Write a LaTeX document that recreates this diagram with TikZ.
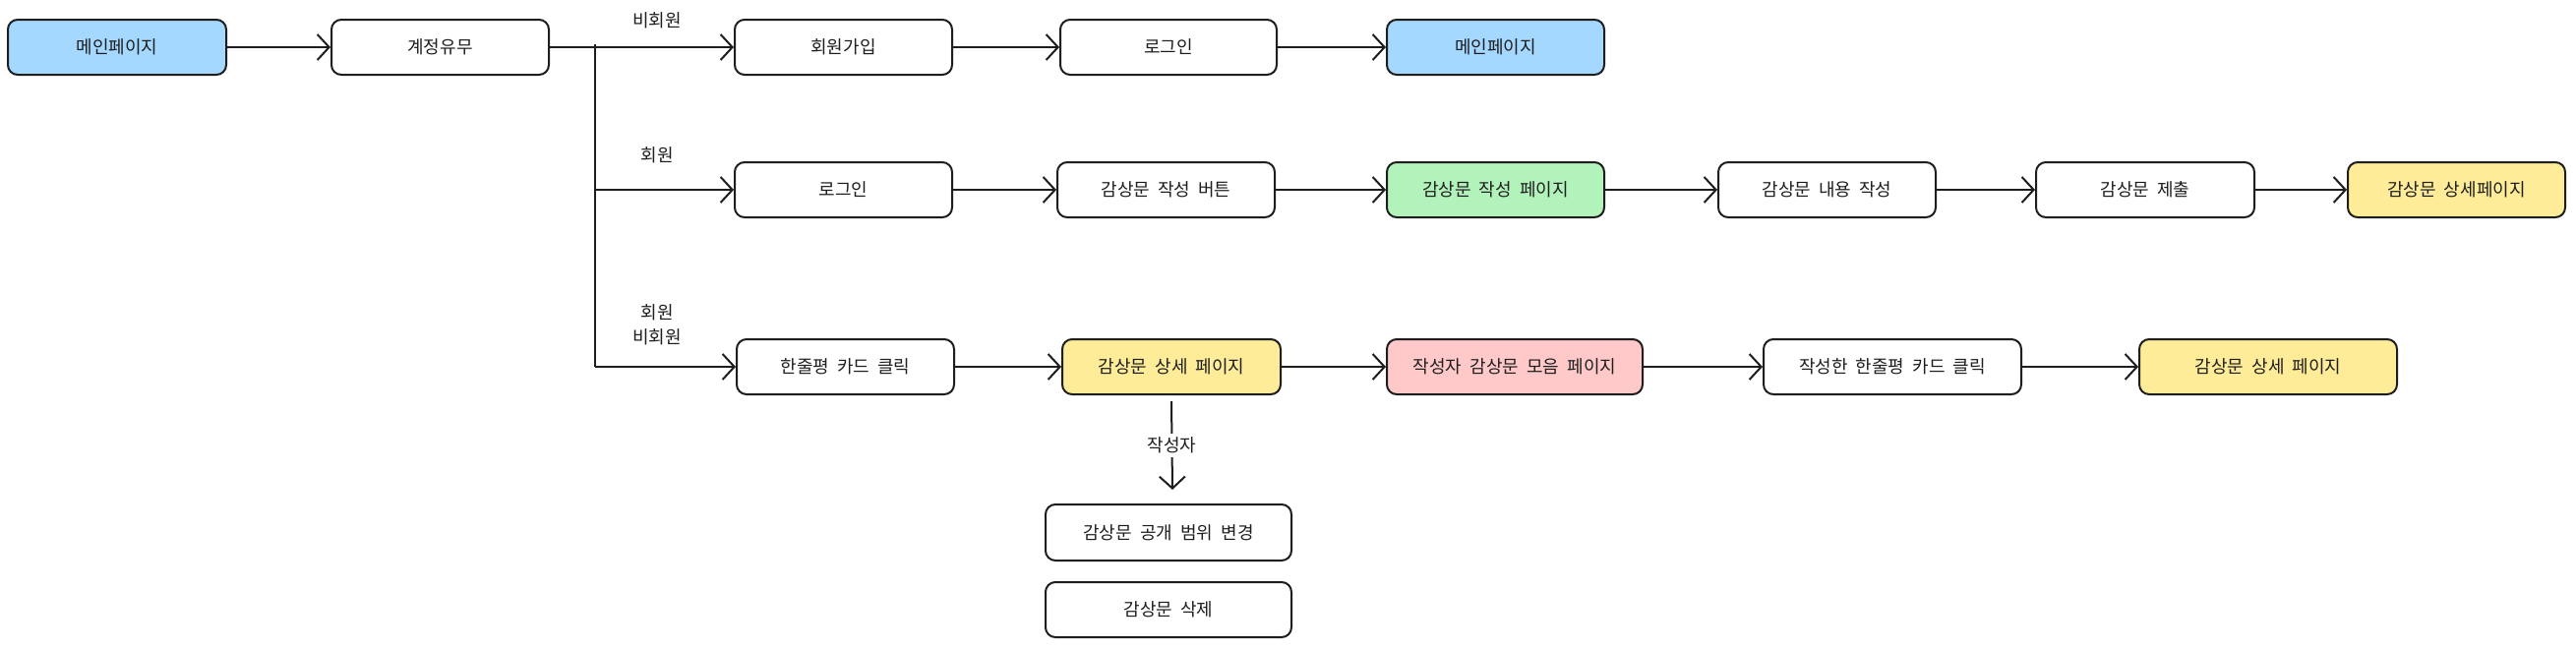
\documentclass[tikz,border=0pt]{standalone}
\usepackage{fontspec}
\setmainfont[WordSpace=2]{Noto Sans CJK KR}
\usetikzlibrary{arrows.meta}
\definecolor{ink}{HTML}{1E1E1E}
\definecolor{cblue}{HTML}{A5D8FF}
\definecolor{cgreen}{HTML}{B2F2BB}
\definecolor{cyellow}{HTML}{FFEC99}
\definecolor{cpink}{HTML}{FFC9C9}
\tikzset{
  box/.style={draw=ink, line width=2pt, rounded corners=10pt, inner sep=0pt,
    font=\fontsize{18}{22}\selectfont, text=ink},
  flow/.style={draw=ink, line width=2pt, -{Straight Barb[length=12pt,width=26pt,line width=2pt]}},
  lbl/.style={font=\fontsize{18}{22}\selectfont, text=ink, inner sep=1pt}
}
\newcommand{\bx}[7]{% name, x1, y1, x2, y2, fill, text
  \node[box, fill=#6, minimum width={#4pt-#2pt}, minimum height={#5pt-#3pt}]
    (#1) at ({(#2+#4)/2*1pt}, {-(#3+#5)/2*1pt}) {#7};}
\begin{document}
\begin{tikzpicture}[x=1pt,y=-1pt]
\useasboundingbox[fill=white] (0,0) rectangle (2619,659);
% row 1
\bx{mainA}{8}{20}{230}{76}{cblue}{메인페이지}
\bx{acct}{337}{20}{558}{76}{white}{계정유무}
\bx{signup}{747}{20}{968}{76}{white}{회원가입}
\bx{loginA}{1078}{20}{1298}{76}{white}{로그인}
\bx{mainB}{1410}{20}{1631}{76}{cblue}{메인페이지}
% row 2
\bx{loginB}{747}{165}{968}{221}{white}{로그인}
\bx{wbtn}{1075}{165}{1296}{221}{white}{감상문 작성 버튼}
\bx{wpage}{1410}{165}{1631}{221}{cgreen}{감상문 작성 페이지}
\bx{content}{1747}{165}{1968}{221}{white}{감상문 내용 작성}
\bx{submit}{2070}{165}{2292}{221}{white}{감상문 제출}
\bx{detA}{2387}{165}{2608}{221}{cyellow}{감상문 상세페이지}
% row 3
\bx{card}{749}{345}{970}{401}{white}{한줄평 카드 클릭}
\bx{detB}{1080}{345}{1302}{401}{cyellow}{감상문 상세 페이지}
\bx{coll}{1410}{345}{1670}{401}{cpink}{작성자 감상문 모음 페이지}
\bx{mycard}{1793}{345}{2055}{401}{white}{작성한 한줄평 카드 클릭}
\bx{detC}{2175}{345}{2437}{401}{cyellow}{감상문 상세 페이지}
% below
\bx{vis}{1063}{513}{1313}{570}{white}{감상문 공개 범위 변경}
\bx{del}{1063}{592}{1313}{648}{white}{감상문 삭제}
% branch
\coordinate (splitTop) at (605,45);
\coordinate (splitB) at (605,193);
\coordinate (splitC) at (605,373);
\draw[ink, line width=2pt] (splitTop) -- (splitC);
\draw[flow] (mainA) -- (acct);
\draw[flow] (acct.east) -- (signup.west);
\draw[flow] (splitB) -- (loginB.west);
\draw[flow] (splitC) -- (card.west);
\draw[flow] (signup) -- (loginA);
\draw[flow] (loginA) -- (mainB);
\draw[flow] (loginB) -- (wbtn);
\draw[flow] (wbtn) -- (wpage);
\draw[flow] (wpage) -- (content);
\draw[flow] (content) -- (submit);
\draw[flow] (submit) -- (detA);
\draw[flow] (card) -- (detB);
\draw[flow] (detB) -- (coll);
\draw[flow] (coll) -- (mycard);
\draw[flow] (mycard) -- (detC);
\coordinate (writerEnd) at (1192,498);
\draw[flow] ([yshift=-6pt]detB.south) -- node[lbl, fill=white, inner ysep=4pt] {작성자} (writerEnd);
% labels
\node[lbl] (l1) at (668,21) {비회원};
\node[lbl] (l2) at (668,158) {회원};
\node[lbl] (l3) at (668,318) {회원};
\node[lbl] (l4) at (668,343) {비회원};
\end{tikzpicture}
\end{document}
